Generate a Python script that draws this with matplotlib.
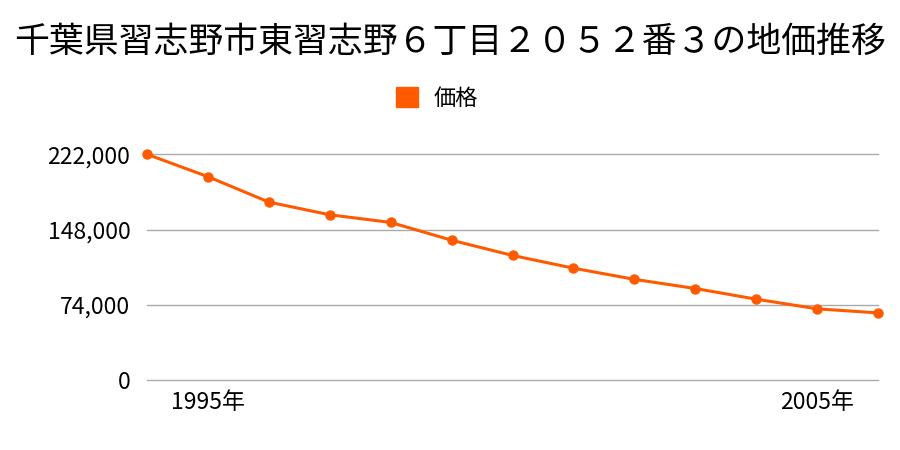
import matplotlib
matplotlib.use("Agg")
import matplotlib.pyplot as plt
from matplotlib.patches import Patch

plt.rcParams["font.family"] = ["Noto Sans CJK JP", "DejaVu Sans"]

TITLE = "千葉県習志野市東習志野６丁目２０５２番３の地価推移"
SERIES_NAME = "価格"
years = list(range(1994, 2007))
prices = [222000, 200000, 175000, 162500, 155000, 137500, 122500,
          110000, 99000, 90000, 79500, 70000, 66000]
y_ticks = [0, 74000, 148000, 222000]
x_ticks = [1995, 2005]

COLOR = "#ff5a00"

fig = plt.figure(figsize=(9, 4.5), dpi=100)
ax = fig.add_axes([147 / 900, 1 - 380 / 450, 731 / 900, 225.7 / 450])

ax.plot(years, prices, color=COLOR, lw=2.2, marker="o", ms=6.5, clip_on=False, zorder=3)

ax.set_xlim(years[0], years[-1])
ax.set_ylim(0, 222000)
ax.set_yticks(y_ticks)
ax.set_yticklabels([f"{v:,}" for v in y_ticks])
ax.set_xticks(x_ticks)
ax.set_xticklabels([f"{y}年" for y in x_ticks])
ax.tick_params(axis="both", length=0, labelsize=16.5)
ax.tick_params(axis="x", pad=8)
ax.tick_params(axis="y", pad=12)
ax.grid(axis="y", color="#aaaaaa", lw=1)
for gl in ax.get_ygridlines():
    gl.set_clip_on(False)
ax.set_axisbelow(True)
for s in ax.spines.values():
    s.set_visible(False)

fig.text(0.5, 1 - 42 / 450, TITLE, ha="center", va="center", fontsize=25.1)

fig.legend(handles=[Patch(color=COLOR, label=SERIES_NAME)], loc="center",
           bbox_to_anchor=(437 / 900, 1 - 98 / 450), frameon=False,
           fontsize=16, handlelength=1.0, handleheight=1.0, handletextpad=0.7)

fig.savefig("out.png", dpi=100)
